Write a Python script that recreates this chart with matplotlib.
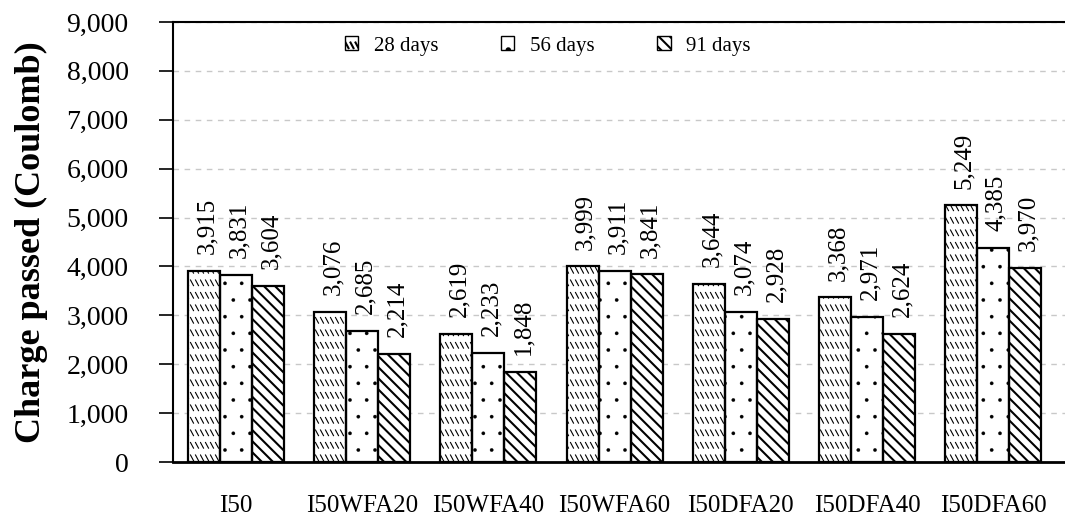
import warnings
import numpy as np
import matplotlib
matplotlib.use("Agg")
import matplotlib.pyplot as plt
import matplotlib.hatch as mhatch
from matplotlib.path import Path
from matplotlib.ticker import FuncFormatter, MultipleLocator

warnings.filterwarnings("ignore")


class DashedDiagonalRows(mhatch.HatchPatternBase):
    """Rows of short backslash-like dashes, triggered by the 'z' hatch character."""

    def __init__(self, hatch, density):
        n = hatch.count('z')
        self.rows = 8 * n
        self.cols = 20 * n
        self.num_vertices = self.rows * self.cols * 2 if n else 0

    def set_vertices_and_codes(self, vertices, codes):
        dy = 1.0 / self.rows
        dx = 1.0 / self.cols
        k = 0
        for r in range(self.rows):
            y0 = (r + 0.15) * dy
            for c in range(self.cols):
                x0 = c * dx + 0.1 * dx
                vertices[k] = (x0, y0 + 0.45 * dy)
                vertices[k + 1] = (x0 + 0.6 * dx, y0)
                codes[k] = Path.MOVETO
                codes[k + 1] = Path.LINETO
                k += 2


mhatch._hatch_types.append(DashedDiagonalRows)

plt.rcParams['font.family'] = ['Liberation Serif', 'DejaVu Serif']

mixes = ["I50", "I50WFA20", "I50WFA40", "I50WFA60", "I50DFA20", "I50DFA40", "I50DFA60"]
ages = ["28 days", "56 days", "91 days"]
charge_28 = [3915, 3076, 2619, 3999, 3644, 3368, 5249]
charge_56 = [3831, 2685, 2233, 3911, 3074, 2971, 4385]
charge_91 = [3604, 2214, 1848, 3841, 2928, 2624, 3970]

series = [charge_28, charge_56, charge_91]
hatches = ['z', '.', '\\\\\\']
hatch_lw = [0.8, 0.2, 1.5]


def set_hlw(patch, lw):
    if hasattr(patch, "set_hatch_linewidth"):
        patch.set_hatch_linewidth(lw)
    else:
        patch._hatch_linewidth = lw


fig = plt.figure(figsize=(10.65, 5.26), dpi=100)
ax = fig.add_axes([173 / 1065, 1 - 462 / 526, (1065 - 173) / 1065, (462 - 22) / 526])

x = np.arange(len(mixes))
width = 0.254
offsets = [-width, 0, width]

handles = []
for vals, off, h, hl, lab in zip(series, offsets, hatches, hatch_lw, ages):
    plt.rcParams['hatch.linewidth'] = hl
    fill = ax.bar(x + off, vals, width, color='white', edgecolor='black', hatch=h,
                  linewidth=0, zorder=2)
    for p in fill:
        set_hlw(p, hl)
    ax.bar(x + off, vals, width, color='none', edgecolor='black',
           linewidth=1.6, zorder=3)
    proxy = ax.bar([np.nan], [np.nan], color='white', edgecolor='black',
                   hatch=h, linewidth=1.0)
    set_hlw(proxy[0], hl)
    handles.append(proxy[0])
    for xi, v in zip(x + off, vals):
        ax.text(xi + 0.025, v + 340, f"{v:,}", rotation=90, ha='center',
                va='bottom', fontsize=18)

ax.set_ylim(0, 9000)
ax.set_xlim(-0.5, 6.57)
ax.yaxis.set_major_locator(MultipleLocator(1000))
ax.yaxis.set_major_formatter(FuncFormatter(lambda v, p: f"{int(v):,}"))
ax.grid(axis='y', linestyle=(0, (4, 4)), color='#c8c8c8', linewidth=1, zorder=0)
ax.set_axisbelow(True)

ax.set_xticks(x)
ax.set_xticklabels(mixes, fontsize=18)
ax.tick_params(axis='x', length=0, pad=24)
ax.tick_params(axis='y', direction='out', length=10, width=1.2, pad=22, labelsize=20)

for s in ['left', 'top']:
    ax.spines[s].set_linewidth(1.5)
ax.spines['bottom'].set_linewidth(2)
ax.spines['right'].set_visible(False)

ax.set_ylabel("Charge passed (Coulomb)", fontsize=26, fontweight='bold', labelpad=13)

ax.legend(handles, ages, loc='upper center', bbox_to_anchor=(0.42, 1.01), ncol=3,
          frameon=False, fontsize=15, handlelength=0.65, handleheight=0.65,
          handletextpad=0.75, columnspacing=3.0)

fig.savefig("out.png", dpi=100)
